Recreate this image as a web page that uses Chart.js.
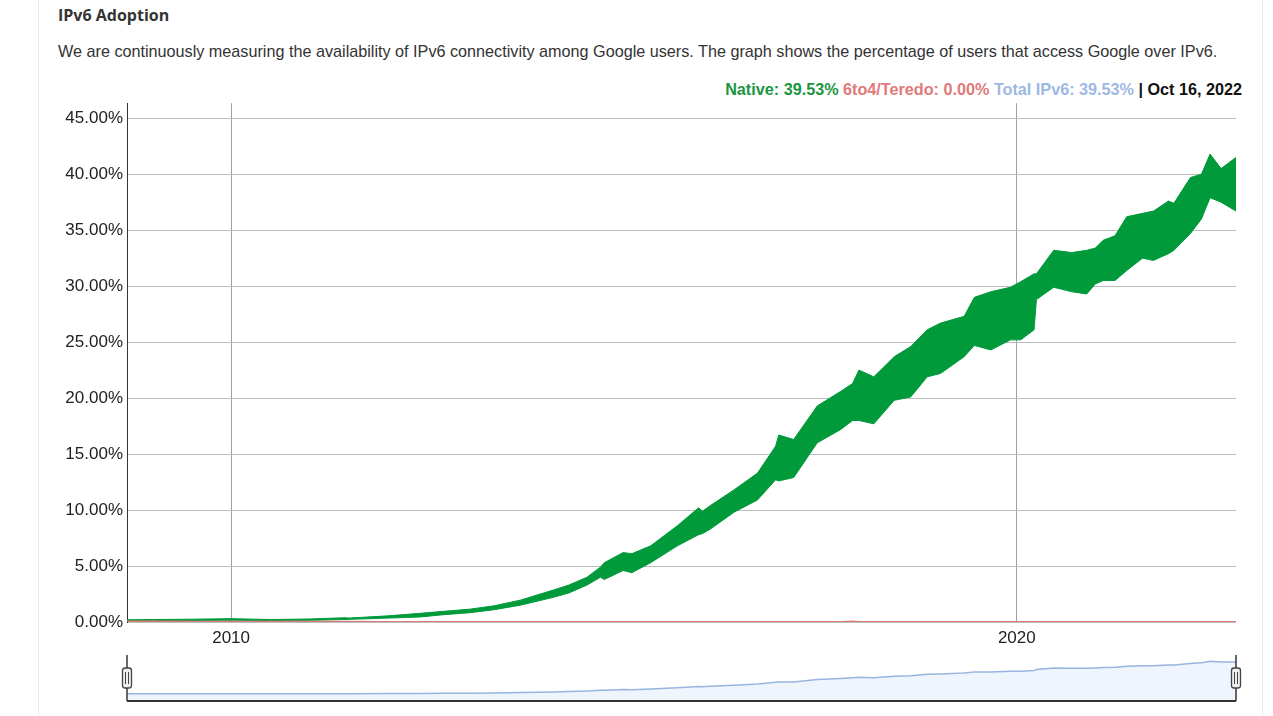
<!DOCTYPE html>
<html>
<head>
<meta charset="utf-8">
<script src="https://cdn.jsdelivr.net/npm/chart.js@4.4.1/dist/chart.umd.min.js"></script>
<style>
  body { margin: 0; background: #fff; width: 1273px; height: 716px; overflow: hidden; position: relative; }
  .edge { position: absolute; top: 0; width: 1px; height: 716px; background: #ececec; }
  #title { position: absolute; left: 58px; top: 4px; font: bold 16px "Open Sans", sans-serif; color: #333; }
  #desc { position: absolute; left: 58px; top: 42px; font: 16.2px "Liberation Sans", Arial, sans-serif; color: #333; white-space: nowrap; }
  #status { position: absolute; right: 31px; top: 80px; font: bold 16.2px "Liberation Sans", Arial, sans-serif; white-space: nowrap; }
  #main { position: absolute; left: 40px; top: 89px; }
  #nav { position: absolute; left: 100px; top: 650px; }
</style>
</head>
<body>
<div class="edge" style="left:38px"></div>
<div class="edge" style="left:1262px"></div>
<div id="title">IPv6 Adoption</div>
<div id="desc">We are continuously measuring the availability of IPv6 connectivity among Google users. The graph shows the percentage of users that access Google over IPv6.</div>
<div id="status"><span style="color:#1a9641">Native: 39.53%</span> <span style="color:#e07a7a">6to4/Teredo: 0.00%</span> <span style="color:#9db9e2">Total IPv6: 39.53%</span> <span style="color:#111">| Oct 16, 2022</span></div>
<canvas id="main" width="1210" height="566"></canvas>
<canvas id="nav" width="1160" height="56"></canvas>
<script>
// dates as decimal years, values in percent (weekly high / low of native IPv6)
var years = [2008.68, 2009.0, 2009.5, 2010.0, 2010.5, 2011.0, 2011.45, 2011.5, 2012.0, 2012.41,
  2012.7, 2013.04, 2013.35, 2013.68, 2014.1, 2014.3, 2014.53, 2014.70, 2014.75, 2014.99,
  2015.1, 2015.34, 2015.68, 2015.95, 2016.0, 2016.10, 2016.40, 2016.70, 2016.93,
  2016.97, 2017.16, 2017.46, 2017.76, 2017.91, 2017.99, 2018.18, 2018.44, 2018.65,
  2018.86, 2019.03, 2019.33, 2019.46, 2019.67, 2019.92, 2020.05, 2020.22,
  2020.25, 2020.47, 2020.7, 2020.89, 2021.0, 2021.10, 2021.25, 2021.40, 2021.6,
  2021.74, 2021.93, 2022.0, 2022.21, 2022.35, 2022.46, 2022.6, 2022.79];
var nativeHigh = [0.20, 0.22, 0.25, 0.30, 0.22, 0.27, 0.38, 0.35, 0.55, 0.78,
  0.95, 1.15, 1.45, 1.95, 2.85, 3.3, 4.0, 4.9, 5.3, 6.2,
  6.1, 6.8, 8.6, 10.2, 9.9, 10.4, 11.8, 13.3, 15.7,
  16.7, 16.3, 19.3, 20.6, 21.3, 22.5, 21.9, 23.7, 24.6,
  26.1, 26.7, 27.3, 29.0, 29.5, 29.9, 30.4, 31.1,
  31.1, 33.2, 33.0, 33.2, 33.4, 34.1, 34.5, 36.2, 36.5,
  36.7, 37.6, 37.4, 39.7, 40.0, 41.8, 40.5, 41.5];
var nativeLow = [0.12, 0.12, 0.14, 0.16, 0.13, 0.15, 0.22, 0.24, 0.35, 0.45,
  0.65, 0.83, 1.10, 1.50, 2.2, 2.6, 3.3, 4.0, 3.8, 4.6,
  4.4, 5.3, 6.8, 7.8, 7.9, 8.3, 9.8, 10.9, 12.7,
  12.6, 12.9, 16.0, 17.2, 18.0, 18.0, 17.7, 19.8, 20.1,
  21.9, 22.2, 23.7, 24.7, 24.3, 25.2, 25.2, 26.1,
  28.8, 29.9, 29.5, 29.3, 30.2, 30.5, 30.5, 31.4, 32.5,
  32.3, 32.9, 33.2, 34.7, 36.0, 37.9, 37.5, 36.7];
var teredo = [0.06, 0.06, 0.05, 0.05, 0.05, 0.04, 0.04, 0.04, 0.03, 0.03,
  0.03, 0.02, 0.02, 0.02, 0.02, 0.02, 0.02, 0.02, 0.02, 0.02,
  0.02, 0.02, 0.02, 0.02, 0.02, 0.02, 0.02, 0.02, 0.02,
  0.02, 0.02, 0.02, 0.02, 0.06, 0.02, 0.02, 0.02, 0.02,
  0.02, 0.02, 0.02, 0.02, 0.02, 0.02, 0.02, 0.02,
  0.02, 0.02, 0.02, 0.02, 0.02, 0.02, 0.02, 0.02, 0.02,
  0.02, 0.02, 0.02, 0.02, 0.02, 0.02, 0.02, 0.02];
var yearTicks = [2010, 2020];
var pctTicks = [0, 5, 10, 15, 20, 25, 30, 35, 40, 45];

var xMin = 2008.675, xMax = 2022.79;
function pts(vals) { return years.map(function (y, i) { return { x: y, y: vals[i] }; }); }

var green = "#009a3b";

new Chart(document.getElementById("main"), {
  type: "line",
  data: {
    datasets: [
      { label: "6to4/Teredo", data: pts(teredo), borderColor: "#d97b7b", borderWidth: 1.5, pointRadius: 0, fill: false },
      { label: "Native", data: pts(nativeHigh), borderColor: green, backgroundColor: green, borderWidth: 1, pointRadius: 0, fill: "+1" },
      { label: "Native low", data: pts(nativeLow), borderColor: green, borderWidth: 1, pointRadius: 0, fill: false }
    ]
  },
  options: {
    responsive: false,
    animation: false,
    layout: { padding: { top: 0, right: 14 } },
    plugins: { legend: { display: false }, tooltip: { enabled: false } },
    scales: {
      x: {
        type: "linear", min: xMin, max: xMax,
        afterBuildTicks: function (s) { s.ticks = yearTicks.map(function (v) { return { value: v }; }); },
        afterFit: function (s) { s.height = 33; },
        grid: { color: "#a0a0a0", drawTicks: false },
        border: { display: false },
        ticks: { padding: 6, color: "#222", font: { family: "Liberation Sans, Arial", size: 17 }, callback: function (v) { return String(v); } }
      },
      y: {
        min: 0, max: 46.34,
        afterBuildTicks: function (s) { s.ticks = pctTicks.map(function (v) { return { value: v }; }); },
        afterFit: function (s) { s.width = 87; },
        grid: { color: "#bdbdbd", drawTicks: false },
        border: { display: true, color: "#333", width: 1 },
        ticks: { padding: 4, color: "#222", font: { family: "Liberation Sans, Arial", size: 17 }, callback: function (v) { return v.toFixed(2) + "%"; } }
      }
    }
  }
});

// range selector below the chart
var navTotal = years.map(function (y, i) { return (nativeHigh[i] + nativeLow[i]) / 2 + teredo[i]; });

var navFrame = {
  id: "navFrame",
  afterDraw: function (chart) {
    var ctx = chart.ctx, a = chart.chartArea;
    ctx.save();
    ctx.strokeStyle = "#333";
    ctx.lineWidth = 2;
    ctx.beginPath();
    ctx.moveTo(a.left, a.bottom); ctx.lineTo(a.right, a.bottom);
    ctx.stroke();
    ctx.lineWidth = 1.5;
    [a.left, a.right].forEach(function (x) {
      ctx.beginPath();
      ctx.moveTo(x, a.top); ctx.lineTo(x, a.bottom);
      ctx.stroke();
      ctx.fillStyle = "#eee";
      ctx.strokeStyle = "#444";
      ctx.lineWidth = 1.3;
      ctx.beginPath();
      ctx.roundRect(x - 4.5, a.top + 13, 9, 20, 2.5);
      ctx.fill(); ctx.stroke();
      ctx.lineWidth = 1;
      ctx.beginPath();
      ctx.moveTo(x - 1.5, a.top + 17); ctx.lineTo(x - 1.5, a.top + 29);
      ctx.moveTo(x + 1.5, a.top + 17); ctx.lineTo(x + 1.5, a.top + 29);
      ctx.stroke();
      ctx.strokeStyle = "#333";
      ctx.lineWidth = 1.5;
    });
    ctx.restore();
  }
};

new Chart(document.getElementById("nav"), {
  type: "line",
  data: {
    datasets: [
      { data: pts(navTotal), borderColor: "#97b5e0", backgroundColor: "#eef5fd", borderWidth: 1.5, pointRadius: 0, fill: "start" }
    ]
  },
  options: {
    responsive: false,
    animation: false,
    layout: { padding: { left: 27, right: 24, top: 5, bottom: 5 } },
    plugins: { legend: { display: false }, tooltip: { enabled: false } },
    scales: {
      x: { type: "linear", min: xMin, max: xMax, display: false },
      y: { min: -8.5, max: 47.5, display: false }
    }
  },
  plugins: [navFrame]
});
</script>
</body>
</html>
